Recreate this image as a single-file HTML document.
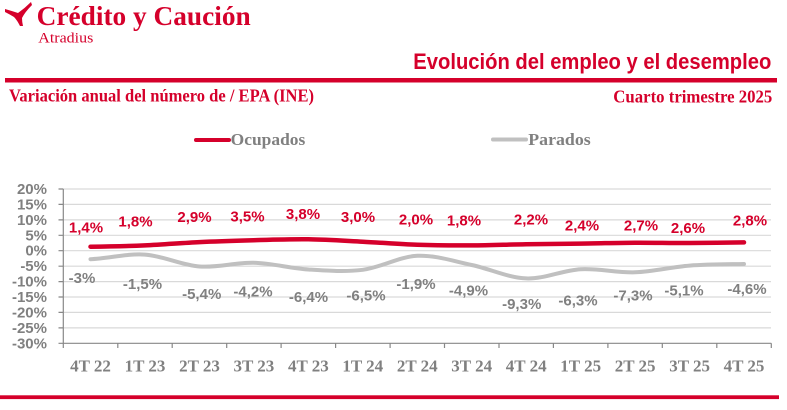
<!DOCTYPE html>
<html><head><meta charset="utf-8"><style>
html,body{margin:0;padding:0;background:#fff;}
svg{display:block;}
.sans{font-family:"Liberation Sans",sans-serif;font-weight:bold;}
.serif{font-family:"Liberation Serif",serif;font-weight:bold;}
</style></head><body>
<svg width="787" height="410" viewBox="0 0 787 410" xmlns="http://www.w3.org/2000/svg">
<rect width="787" height="410" fill="#fff"/>
<path d="M5,9 Q12,11 18,13 Q25,8 31,2 L32,5 Q25,12 22,18 Q22,22 23,26 L20,26 Q17,20 14,17 Q9,14 5,12 Z" fill="#d5002b"/>
<text x="36.7" y="25" class="serif" font-size="27" fill="#d5002b" textLength="214" lengthAdjust="spacingAndGlyphs">Crédito y Caución</text>
<text x="38.3" y="42.5" font-family="Liberation Serif, serif" font-size="15" fill="#d5002b" textLength="55" lengthAdjust="spacingAndGlyphs">Atradius</text>
<text x="413.3" y="69" class="sans" font-size="22" fill="#d5002b" textLength="358" lengthAdjust="spacingAndGlyphs">Evolución del empleo y el desempleo</text>
<rect x="5" y="78" width="772" height="4.5" fill="#d5002b"/>
<text x="9" y="101.7" class="serif" font-size="18" fill="#d5002b" textLength="305" lengthAdjust="spacingAndGlyphs">Variación anual del número de / EPA (INE)</text>
<text x="613.3" y="102.3" class="serif" font-size="17.5" fill="#d5002b" textLength="159" lengthAdjust="spacingAndGlyphs">Cuarto trimestre 2025</text>
<line x1="196" y1="140" x2="229" y2="140" stroke="#d5002b" stroke-width="4" stroke-linecap="round"/>
<text x="230.7" y="145" class="serif" font-size="17" fill="#808080" textLength="74.6" lengthAdjust="spacingAndGlyphs">Ocupados</text>
<line x1="493" y1="139.5" x2="526" y2="139.5" stroke="#c0c0c0" stroke-width="4" stroke-linecap="round"/>
<text x="528.3" y="145" class="serif" font-size="17" fill="#808080" textLength="62.4" lengthAdjust="spacingAndGlyphs">Parados</text>
<g stroke="#d9d9d9" stroke-width="1.2">
<line x1="63.3" y1="189" x2="771" y2="189"/>
<line x1="63.3" y1="204.4" x2="771" y2="204.4"/>
<line x1="63.3" y1="219.9" x2="771" y2="219.9"/>
<line x1="63.3" y1="235.3" x2="771" y2="235.3"/>
<line x1="63.3" y1="250.7" x2="771" y2="250.7"/>
<line x1="63.3" y1="266.2" x2="771" y2="266.2"/>
<line x1="63.3" y1="281.6" x2="771" y2="281.6"/>
<line x1="63.3" y1="297" x2="771" y2="297"/>
<line x1="63.3" y1="312.4" x2="771" y2="312.4"/>
<line x1="63.3" y1="327.9" x2="771" y2="327.9"/>
</g>
<g stroke="#888" stroke-width="1.2" fill="none">
<line x1="63.3" y1="189" x2="63.3" y2="348"/>
<line x1="63.3" y1="343.3" x2="771.3" y2="343.3"/>
<path d="M58.5,189H63.3M58.5,204.4H63.3M58.5,219.9H63.3M58.5,235.3H63.3M58.5,250.7H63.3M58.5,266.2H63.3M58.5,281.6H63.3M58.5,297H63.3M58.5,312.4H63.3M58.5,327.9H63.3M58.5,343.3H63.3"/>
<path d="M117.8,343.3V348M172.2,343.3V348M226.7,343.3V348M281.1,343.3V348M335.6,343.3V348M390.1,343.3V348M444.5,343.3V348M499,343.3V348M553.4,343.3V348M607.9,343.3V348M662.3,343.3V348M716.8,343.3V348M771.3,343.3V348"/>
</g>
<g class="sans" font-size="15" fill="#808080" text-anchor="end">
<text x="47" y="194">20%</text>
<text x="47" y="209.4">15%</text>
<text x="47" y="224.9">10%</text>
<text x="47" y="240.3">5%</text>
<text x="47" y="255.7">0%</text>
<text x="47" y="271.2">-5%</text>
<text x="47" y="286.6">-10%</text>
<text x="47" y="302">-15%</text>
<text x="47" y="317.4">-20%</text>
<text x="47" y="332.9">-25%</text>
<text x="47" y="348.3">-30%</text>
</g>
<g class="serif" font-size="17" fill="#808080" text-anchor="middle">
<text x="90.5" y="371.5">4T 22</text>
<text x="145" y="371.5">1T 23</text>
<text x="199.5" y="371.5">2T 23</text>
<text x="253.9" y="371.5">3T 23</text>
<text x="308.4" y="371.5">4T 23</text>
<text x="362.8" y="371.5">1T 24</text>
<text x="417.3" y="371.5">2T 24</text>
<text x="471.7" y="371.5">3T 24</text>
<text x="526.2" y="371.5">4T 24</text>
<text x="580.7" y="371.5">1T 25</text>
<text x="635.1" y="371.5">2T 25</text>
<text x="689.6" y="371.5">3T 25</text>
<text x="744" y="371.5">4T 25</text>
</g>
<path d="M90.5,259.2 C108.6,258.4 126.8,253.4 145.0,254.6 C163.1,255.8 181.3,265.1 199.5,266.5 C217.6,267.9 235.8,262.3 253.9,262.8 C272.1,263.3 290.2,268.3 308.4,269.5 C326.5,270.7 344.7,272.1 362.8,269.8 C381.0,267.5 399.1,256.6 417.3,255.8 C435.4,255.0 453.6,261.2 471.7,265.0 C489.9,268.8 508.0,277.7 526.2,278.4 C544.3,279.1 562.5,270.2 580.7,269.2 C598.8,268.2 617.0,272.9 635.1,272.3 C653.3,271.7 671.4,267.0 689.6,265.6 C707.7,264.2 725.9,264.3 744.0,264.0" fill="none" stroke="#c0c0c0" stroke-width="4" stroke-linecap="round"/>
<path d="M90.5,246.7 C108.6,246.5 126.8,246.2 145.0,245.4 C163.1,244.6 181.3,243.0 199.5,242.1 C217.6,241.2 235.8,240.7 253.9,240.2 C272.1,239.7 290.2,239.1 308.4,239.3 C326.5,239.6 344.7,240.8 362.8,241.7 C381.0,242.6 399.1,244.2 417.3,244.8 C435.4,245.4 453.6,245.5 471.7,245.4 C489.9,245.3 508.0,244.5 526.2,244.2 C544.3,243.9 562.5,243.9 580.7,243.6 C598.8,243.4 617.0,242.8 635.1,242.7 C653.3,242.6 671.4,243.1 689.6,243.0 C707.7,242.9 725.9,242.5 744.0,242.4" fill="none" stroke="#d5002b" stroke-width="4.5" stroke-linecap="round"/>
<g class="sans" font-size="15" fill="#d5002b" text-anchor="middle">
<text x="86" y="232.5">1,4%</text>
<text x="135.5" y="226.5">1,8%</text>
<text x="194.5" y="222.2">2,9%</text>
<text x="247.5" y="221.5">3,5%</text>
<text x="303" y="218.8">3,8%</text>
<text x="358" y="222.2">3,0%</text>
<text x="416" y="224.5">2,0%</text>
<text x="464" y="225.5">1,8%</text>
<text x="531" y="224.5">2,2%</text>
<text x="582" y="230.5">2,4%</text>
<text x="641" y="230.5">2,7%</text>
<text x="688" y="232.8">2,6%</text>
<text x="750" y="225.5">2,8%</text>
</g>
<g class="sans" font-size="15" fill="#808080" text-anchor="middle">
<text x="82" y="282.8">-3%</text>
<text x="142.5" y="288.8">-1,5%</text>
<text x="201.7" y="298.8">-5,4%</text>
<text x="253" y="296.5">-4,2%</text>
<text x="308.5" y="302.2">-6,4%</text>
<text x="366" y="300.5">-6,5%</text>
<text x="416" y="288.8">-1,9%</text>
<text x="468.5" y="295.5">-4,9%</text>
<text x="521.7" y="308.8">-9,3%</text>
<text x="578" y="305.5">-6,3%</text>
<text x="633" y="300.5">-7,3%</text>
<text x="684" y="295.5">-5,1%</text>
<text x="747" y="293.8">-4,6%</text>
</g>
<rect x="0" y="395.3" width="779" height="3.8" fill="#d5002b"/>
</svg>
</body></html>
